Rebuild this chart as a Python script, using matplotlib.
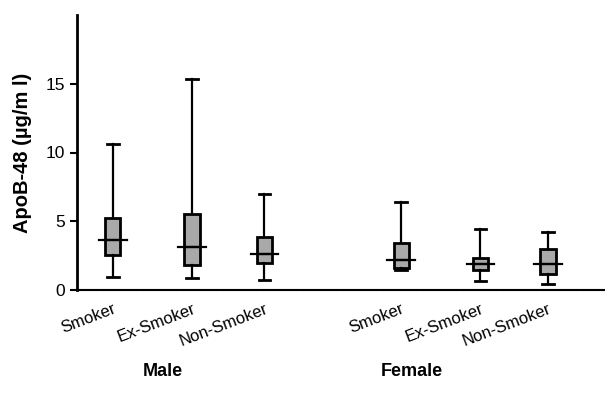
import numpy as np
import matplotlib.pyplot as plt

plt.rcParams['font.family'] = ['Liberation Sans', 'DejaVu Sans']

# values (ug/ml)
groups = ['Smoker', 'Ex-Smoker', 'Non-Smoker', 'Smoker', 'Ex-Smoker', 'Non-Smoker']
whislo = [0.94, 0.87, 0.75, 1.42, 0.63, 0.44]
q1 = [2.56, 1.84, 1.96, 1.60, 1.42, 1.16]
med = [3.65, 3.12, 2.64, 2.15, 1.91, 1.89]
q3 = [5.23, 5.54, 3.85, 3.43, 2.32, 2.98]
whishi = [10.6, 15.37, 6.99, 6.43, 4.43, 4.23]
sexes = ['Male', 'Female']

positions = [1, 2.04, 2.99, 4.79, 5.83, 6.72]

stats = []
for i in range(len(groups)):
    stats.append(dict(whislo=whislo[i], q1=q1[i], med=med[i], q3=q3[i],
                      whishi=whishi[i], fliers=[], label=groups[i]))

fig = plt.figure(figsize=(6.05, 4.0), dpi=100)
ax = fig.add_axes([0.127, 0.275, 0.873, 0.6875])

ax.bxp(stats, positions=positions, widths=0.2, patch_artist=True,
       showfliers=False,
       boxprops=dict(facecolor='#a9a9a9', edgecolor='black', linewidth=2),
       whiskerprops=dict(color='black', linewidth=1.6),
       capprops=dict(color='black', linewidth=2),
       capwidths=0.15,
       medianprops=dict(color='black', linewidth=1.6))

# median lines stick out of the box a bit
for p, m in zip(positions, med):
    ax.plot([p - 0.18, p + 0.18], [m, m], color='black', lw=1.6, zorder=5)

ax.set_xlim(0.526, 7.47)
ax.set_ylim(0, 20)
ax.set_yticks([0, 5, 10, 15])
ax.tick_params(axis='y', labelsize=12.5, length=5, width=1.5)
ax.tick_params(axis='x', length=0, pad=8)
ax.set_xticks(positions)
ax.set_xticklabels(groups, rotation=21, ha='right', rotation_mode='anchor',
                   fontsize=12)

ax.spines['top'].set_visible(False)
ax.spines['right'].set_visible(False)
ax.spines['left'].set_linewidth(2)
ax.spines['bottom'].set_linewidth(1.5)
ax.spines['bottom'].set_linestyle((0, (1, 0.6)))

ax.set_ylabel('ApoB-48 (µg/m l)', fontsize=14.5, fontweight='bold', labelpad=10)

fig.text(163 / 605, 1 - 372 / 400, sexes[0], ha='center', va='center',
         fontsize=13, fontweight='bold')
fig.text(412 / 605, 1 - 372 / 400, sexes[1], ha='center', va='center',
         fontsize=13, fontweight='bold')

fig.savefig('out.png', dpi=100)
